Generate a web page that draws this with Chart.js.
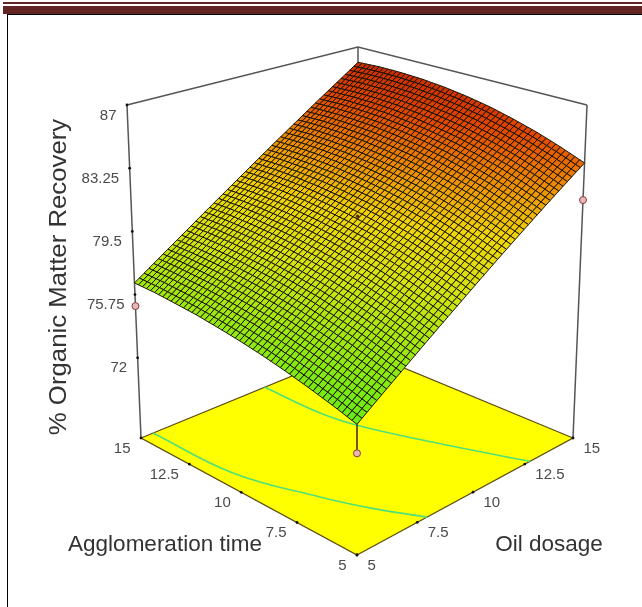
<!DOCTYPE html>
<html>
<head>
<meta charset="utf-8">
<title>Organic Matter Recovery</title>
<script src="https://cdn.jsdelivr.net/npm/chart.js@4/dist/chart.umd.min.js"></script>
<style>
  html, body { margin: 0; padding: 0; background: #fff; width: 642px; height: 607px; overflow: hidden; }
  #page { position: relative; width: 642px; height: 607px; }
  .band { position: absolute; background: #632523; }
  .rule { position: absolute; background: #000; }
  canvas { position: absolute; left: 0; top: 0; }
</style>
</head>
<body>
<div id="page">
  <div class="band" style="left:3px;top:2px;width:639px;height:2px"></div>
  <div class="band" style="left:3px;top:6px;width:639px;height:8px"></div>
  <div class="rule" style="left:7px;top:14px;width:635px;height:1px"></div>
  <div class="rule" style="left:7px;top:14px;width:1px;height:593px"></div>
  <canvas id="myChart" width="642" height="607"></canvas>
</div>
<script>
// values
const oilLevels = [5, 6, 7, 8, 9, 10, 11, 12, 13, 14, 15];
const timeLevels = [5, 6, 7, 8, 9, 10, 11, 12, 13, 14, 15];
// recovery, one row per time level, one column per oil level
const recovery = [
  [74.00, 74.96, 75.91, 76.87, 77.82, 78.78, 79.74, 80.69, 81.65, 82.60, 83.56],
  [74.41, 75.38, 76.34, 77.32, 78.28, 79.26, 80.23, 81.20, 82.17, 83.14, 84.11],
  [74.78, 75.77, 76.75, 77.73, 78.71, 79.69, 80.68, 81.65, 82.64, 83.62, 84.60],
  [75.12, 76.11, 77.09, 78.09, 79.07, 80.06, 81.06, 82.04, 83.04, 84.02, 85.01],
  [75.42, 76.42, 77.41, 78.41, 79.40, 80.39, 81.39, 82.38, 83.38, 84.37, 85.37],
  [75.68, 76.68, 77.67, 78.67, 79.66, 80.66, 81.66, 82.65, 83.65, 84.64, 85.64],
  [75.90, 76.90, 77.89, 78.89, 79.88, 80.87, 81.87, 82.86, 83.86, 84.85, 85.85],
  [76.10, 77.09, 78.07, 79.07, 80.05, 81.04, 82.04, 83.02, 84.02, 85.00, 85.99],
  [76.24, 77.23, 78.21, 79.19, 80.17, 81.15, 82.14, 83.11, 84.10, 85.08, 86.06],
  [76.37, 77.34, 78.30, 79.28, 80.24, 81.22, 82.19, 83.16, 84.13, 85.09, 86.07],
  [76.44, 77.40, 78.35, 79.31, 80.26, 81.22, 82.18, 83.13, 84.09, 85.04, 86.00]
];
const designOil = [5, 5, 15];
const designTime = [5, 15, 5];
const designRecovery = [72.5, 75.07, 81.36];
const centerOil = [10];
const centerTime = [10];
const centerRecovery = [80.4];
const contourLowOil = [7.92, 7.11, 6.50, 5.60, 5.49];
const contourLowTime = [5, 6.57, 8.10, 11.1, 15];
const contourHighOil = [12.76, 11.58, 10.66, 10.38, 10.39];
const contourHighTime = [5, 7.93, 10.55, 12.18, 15];
const zTicks = [87, 83.25, 79.5, 75.75, 72];
const zTickLabels = ['87', '83.25', '79.5', '75.75', '72'];
const floorTicks = [5, 7.5, 10, 12.5, 15];
const floorTickLabels = ['5', '7.5', '10', '12.5', '15'];
const yTitle = '% Organic Matter Recovery';
const timeTitle = 'Agglomeration time';
const oilTitle = 'Oil dosage';

const zFloor = 67.24;
const zTop = 87;
const facetSteps = 5;

// camera: where the box corners land, order is near, oil end, far, time end
const floorCorners = [[357, 555], [573, 438], [358, 349], [141, 438]];
const topCorners = [[357, 173], [587, 105], [358, 47], [127, 105]];

function makeQuad(c) {
  const [p0, p1, p2, p3] = c;
  const dx1 = p1[0] - p2[0], dx2 = p3[0] - p2[0], sx = p0[0] - p1[0] + p2[0] - p3[0];
  const dy1 = p1[1] - p2[1], dy2 = p3[1] - p2[1], sy = p0[1] - p1[1] + p2[1] - p3[1];
  const den = dx1 * dy2 - dx2 * dy1;
  const g = (sx * dy2 - dx2 * sy) / den;
  const h = (dx1 * sy - sx * dy1) / den;
  return (u, v) => {
    const d = 1 + g * u + h * v;
    return [
      (p0[0] + (p1[0] - p0[0] + g * p1[0]) * u + (p3[0] - p0[0] + h * p3[0]) * v) / d,
      (p0[1] + (p1[1] - p0[1] + g * p1[1]) * u + (p3[1] - p0[1] + h * p3[1]) * v) / d
    ];
  };
}
const floorQuad = makeQuad(floorCorners);
const topQuad = makeQuad(topCorners);

function project(oil, time, z) {
  const u = (oil - 5) / 10, v = (time - 5) / 10, w = (z - zFloor) / (zTop - zFloor);
  const a = floorQuad(u, v), b = topQuad(u, v);
  return { x: a[0] + (b[0] - a[0]) * w, y: a[1] + (b[1] - a[1]) * w };
}

const colorStops = [
  [73, [80, 236, 24]], [76, [150, 232, 16]], [78.5, [214, 228, 16]], [80.5, [240, 214, 8]],
  [82.5, [236, 142, 4]], [84.5, [226, 72, 0]], [87, [190, 28, 0]]
];
function surfaceColor(z) {
  let i = 0;
  while (i < colorStops.length - 2 && z > colorStops[i + 1][0]) i++;
  const [z0, c0] = colorStops[i], [z1, c1] = colorStops[i + 1];
  const t = Math.max(0, Math.min(1, (z - z0) / (z1 - z0)));
  return 'rgb(' + c0.map((c, k) => Math.round(c + (c1[k] - c) * t)).join(',') + ')';
}

// one height inside a table patch, only used to place the mesh facets
function meshHeight(col, row, s, t) {
  const r0 = recovery[row], r1 = recovery[Math.min(row + 1, recovery.length - 1)];
  const a = r0[col], b = r0[Math.min(col + 1, r0.length - 1)];
  const c = r1[col], d = r1[Math.min(col + 1, r1.length - 1)];
  return (a + (b - a) * s) * (1 - t) + (c + (d - c) * s) * t;
}

function drawSurface(chart) {
  const { ctx, scales } = chart;
  const n = (oilLevels.length - 1) * facetSteps;
  const m = (timeLevels.length - 1) * facetSteps;
  const corner = (i, j) => {
    const col = Math.floor(i / facetSteps), row = Math.floor(j / facetSteps);
    const z = meshHeight(col, row, i / facetSteps - col, j / facetSteps - row);
    const oil = oilLevels[0] + (oilLevels[oilLevels.length - 1] - oilLevels[0]) * i / n;
    const time = timeLevels[0] + (timeLevels[timeLevels.length - 1] - timeLevels[0]) * j / m;
    const p = project(oil, time, z);
    return { x: scales.x.getPixelForValue(p.x), y: scales.y.getPixelForValue(p.y), z };
  };
  ctx.save();
  ctx.lineWidth = 1;
  ctx.strokeStyle = 'rgba(20,15,0,0.95)';
  ctx.lineJoin = 'round';
  // far corner first so nearer facets paint over
  for (let j = m - 1; j >= 0; j--) {
    for (let i = n - 1; i >= 0; i--) {
      const a = corner(i, j), b = corner(i + 1, j), c = corner(i + 1, j + 1), d = corner(i, j + 1);
      ctx.beginPath();
      ctx.moveTo(a.x, a.y);
      ctx.lineTo(b.x, b.y);
      ctx.lineTo(c.x, c.y);
      ctx.lineTo(d.x, d.y);
      ctx.closePath();
      ctx.fillStyle = surfaceColor((a.z + b.z + c.z + d.z) / 4);
      ctx.fill();
      ctx.stroke();
    }
  }
  ctx.restore();
}

function drawFloor(chart) {
  const { ctx, scales } = chart;
  const pts = [[5, 5], [15, 5], [15, 15], [5, 15]].map(([oil, time]) => project(oil, time, zFloor));
  ctx.save();
  ctx.beginPath();
  pts.forEach((p, i) => {
    const x = scales.x.getPixelForValue(p.x), y = scales.y.getPixelForValue(p.y);
    if (i === 0) ctx.moveTo(x, y); else ctx.lineTo(x, y);
  });
  ctx.closePath();
  ctx.fillStyle = '#ffff00';
  ctx.fill();
  ctx.lineWidth = 1.2;
  ctx.strokeStyle = '#5a4a10';
  ctx.stroke();
  ctx.restore();
}

function drawTexts(chart) {
  const { ctx, scales } = chart;
  const px = (p) => [scales.x.getPixelForValue(p.x), scales.y.getPixelForValue(p.y)];
  ctx.save();
  ctx.textBaseline = 'middle';
  ctx.font = '15px "Liberation Sans"';
  ctx.fillStyle = '#4a4a4a';
  ctx.textAlign = 'right';
  zTicks.forEach((z, i) => {
    const [x, y] = px(project(5, 15, z));
    ctx.fillText(zTickLabels[i], x - 10.5, y + 10.5);
  });
  floorTicks.forEach((t, i) => {
    const [x, y] = px(project(5, t, zFloor));
    ctx.fillText(floorTickLabels[i], x - 10.5, y + 10.5);
  });
  ctx.textAlign = 'left';
  floorTicks.forEach((o, i) => {
    const [x, y] = px(project(o, 5, zFloor));
    ctx.fillText(floorTickLabels[i], x + 10.5, y + 10.5);
  });
  ctx.fillStyle = '#333';
  ctx.textAlign = 'center';
  ctx.font = '22.5px "Liberation Sans"';
  ctx.fillText(timeTitle, 165, 545);
  ctx.fillText(oilTitle, 549, 545);
  // the axis title is stretched along its length in the original
  ctx.font = '23px "Liberation Sans"';
  ctx.translate(60, 277);
  ctx.rotate(-Math.PI / 2);
  ctx.scale(1.12, 1);
  ctx.fillText(yTitle, 0, 0);
  ctx.restore();
}

const surfacePlugin = {
  id: 'surfacePlugin',
  beforeDatasetsDraw(chart) {
    drawFloor(chart);
  },
  beforeDatasetDraw(chart, args) {
    if (args.index === 0) drawSurface(chart);
  },
  afterDatasetsDraw(chart) {
    drawTexts(chart);
  }
};

const leftPost = [project(5, 15, zFloor), project(5, 15, zTop)];
const rightPost = [project(15, 5, zFloor), project(15, 5, zTop)];
const backEdges = [project(5, 15, zTop), project(15, 15, zTop), project(15, 5, zTop)];
const backPost = [project(15, 15, zTop), project(15, 15, 84)];

const lineStyle = (color, width) => ({
  type: 'line', showLine: true, pointRadius: 0, borderColor: color, borderWidth: width, fill: false
});

new Chart(document.getElementById('myChart'), {
  type: 'scatter',
  data: {
    datasets: [
      // index 0 is painted right after the surface
      Object.assign(lineStyle('#4a3020', 1.6), {
        label: 'near post', order: 2,
        data: [project(5, 5, recovery[0][0]), project(5, 5, designRecovery[0])]
      }),
      {
        label: 'design points', order: 1, pointRadius: 3.5, pointBackgroundColor: '#e6b9b8',
        pointBorderColor: '#8a3a3a', pointBorderWidth: 1,
        data: designOil.map((o, i) => project(o, designTime[i], designRecovery[i]))
      },
      {
        label: 'center point', order: 1, pointRadius: 1.5, pointBackgroundColor: '#5a2020',
        pointBorderColor: '#5a2020', pointBorderWidth: 0.5,
        data: centerOil.map((o, i) => project(o, centerTime[i], centerRecovery[i]))
      },
      {
        label: 'axis ticks', order: 1, pointRadius: 1.4, pointBackgroundColor: '#111',
        pointBorderColor: '#111', pointBorderWidth: 0,
        data: [
          ...zTicks.map((z) => project(5, 15, z)),
          ...floorTicks.map((t) => project(5, t, zFloor)),
          ...floorTicks.map((o) => project(o, 5, zFloor))
        ]
      },
      Object.assign(lineStyle('#4fe07a', 1.6), {
        label: 'contour low', order: 3, tension: 0.4,
        data: contourLowOil.map((o, i) => project(o, contourLowTime[i], zFloor))
      }),
      Object.assign(lineStyle('#4fe07a', 1.6), {
        label: 'contour high', order: 3, tension: 0.4,
        data: contourHighOil.map((o, i) => project(o, contourHighTime[i], zFloor))
      }),
      Object.assign(lineStyle('#555555', 1.5), { label: 'left post', order: 3, data: leftPost }),
      Object.assign(lineStyle('#555555', 1.5), { label: 'right post', order: 3, data: rightPost }),
      Object.assign(lineStyle('#555555', 1.5), { label: 'back edges', order: 3, data: backEdges }),
      Object.assign(lineStyle('#555555', 1.5), { label: 'back post', order: 3, data: backPost })
    ]
  },
  options: {
    responsive: false,
    animation: false,
    devicePixelRatio: 1,
    layout: { padding: 0, autoPadding: false },
    plugins: { legend: { display: false }, tooltip: { enabled: false }, title: { display: false } },
    scales: {
      x: { type: 'linear', display: false, min: 0, max: 642 },
      y: { type: 'linear', display: false, min: 0, max: 607, reverse: true }
    }
  },
  plugins: [surfacePlugin]
});
</script>
</body>
</html>
